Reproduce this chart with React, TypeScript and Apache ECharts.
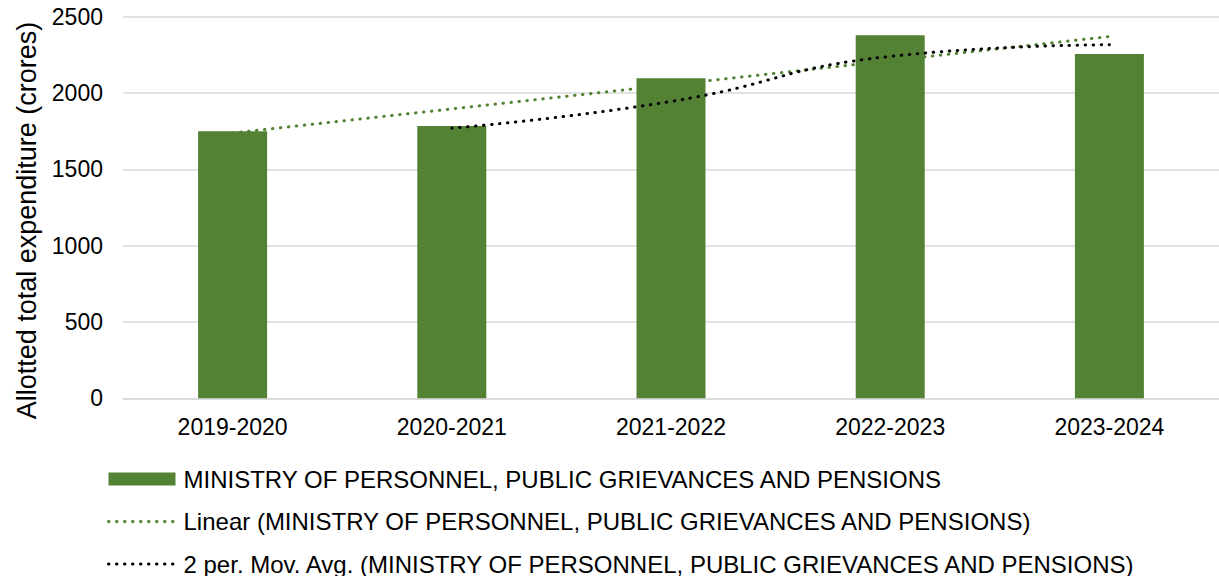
import React, { useEffect, useRef } from "react";
import * as echarts from "echarts";

const categories = ["2019-2020", "2020-2021", "2021-2022", "2022-2023", "2023-2024"];
const seriesName = "MINISTRY OF PERSONNEL, PUBLIC GRIEVANCES AND PENSIONS";
const expenditure = [1749, 1784, 2096, 2378, 2256];
const linearTrend = [1738, null, null, null, 2370];
const movingAvg = [null, 1770, 1945, 2240, 2316];
const yTicks = { min: 0, max: 2500, interval: 500 };

const GREEN = "#548235";
const FONT = "Liberation Sans, Arial, sans-serif";
const DOTS = [0.5, 7.5];

export default function App() {
  const ref = useRef<HTMLDivElement>(null);
  useEffect(() => {
    const chart = echarts.init(ref.current!, null, { renderer: "svg" });
    chart.setOption({
      animation: false,
      textStyle: { fontFamily: FONT, color: "#000" },
      grid: { left: 123, right: -11, top: 16.7, bottom: 177.7 },
      xAxis: {
        type: "category",
        data: categories,
        axisLine: { lineStyle: { color: "#d9d9d9", width: 1.5 } },
        axisTick: { show: false },
        axisLabel: { fontSize: 23, color: "#000", margin: 17, fontFamily: FONT },
      },
      yAxis: {
        type: "value",
        min: yTicks.min,
        max: yTicks.max,
        interval: yTicks.interval,
        axisLine: { show: false },
        axisTick: { show: false },
        splitLine: { lineStyle: { color: "#d9d9d9", width: 1.5 } },
        axisLabel: {
          fontSize: 23,
          color: "#000",
          margin: 20,
          fontFamily: FONT,
          formatter: (v: number) => String(v),
        },
        name: "Allotted total expenditure (crores)",
        nameLocation: "middle",
        nameRotate: 90,
        nameGap: 79,
        nameTextStyle: { fontSize: 27, color: "#000", fontFamily: FONT, padding: [0, 26, 0, 0] },
      },
      legend: {
        orient: "vertical",
        left: 107,
        top: 464,
        height: 140,
        padding: 0,
        itemWidth: 67,
        itemHeight: 13,
        itemGap: 12.5,
        textStyle: { fontSize: 24, color: "#000", fontFamily: FONT, lineHeight: 30, padding: [0, 0, 0, 3] },
        data: [
          { name: seriesName, icon: "rect" },
          {
            name: "Linear (" + seriesName + ")",
            itemStyle: { opacity: 0 },
            lineStyle: { color: GREEN, width: 3, type: DOTS, cap: "round" },
          },
          {
            name: "2 per. Mov. Avg. (" + seriesName + ")",
            itemStyle: { opacity: 0 },
            lineStyle: { color: "#000", width: 3, type: DOTS, cap: "round" },
          },
        ],
      },
      series: [
        {
          name: seriesName,
          type: "bar",
          data: expenditure,
          barWidth: 69,
          itemStyle: { color: GREEN },
        },
        {
          name: "Linear (" + seriesName + ")",
          type: "line",
          data: linearTrend,
          connectNulls: true,
          symbol: "none",
          itemStyle: { color: GREEN },
          lineStyle: { color: GREEN, width: 3, type: DOTS, cap: "round" },
          z: 3,
        },
        {
          name: "2 per. Mov. Avg. (" + seriesName + ")",
          type: "line",
          data: movingAvg,
          smooth: 0.5,
          symbol: "none",
          itemStyle: { color: "#000" },
          lineStyle: { color: "#000", width: 3, type: DOTS, cap: "round" },
          z: 4,
        },
      ],
    });
    return () => chart.dispose();
  }, []);
  return (
    <div
      ref={ref}
      style={{ position: "fixed", left: 0, top: 0, width: 1219, height: 576, background: "#fff" }}
    />
  );
}
